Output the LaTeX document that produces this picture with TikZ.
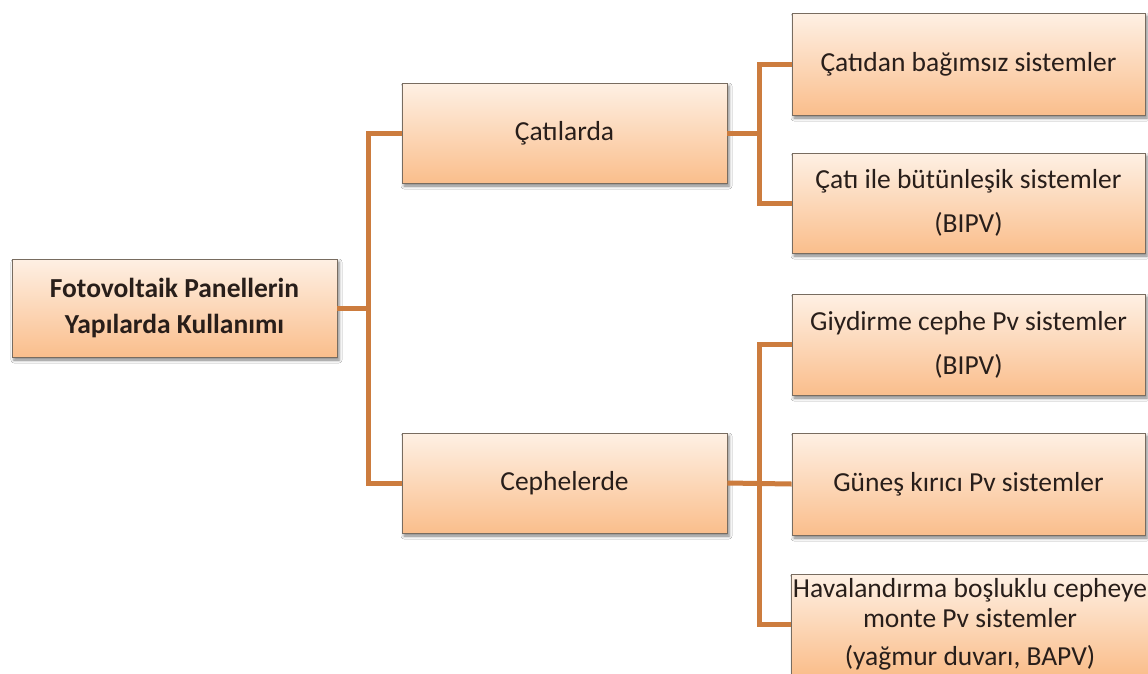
\documentclass[tikz,border=0pt]{standalone}
\usepackage{fontspec}
\setmainfont{Carlito}
\usetikzlibrary{shadows.blur,calc}
\definecolor{conn}{RGB}{204,124,62}
\definecolor{boxtop}{RGB}{254,240,228}
\definecolor{boxbot}{RGB}{250,190,140}
\definecolor{boxedge}{RGB}{120,108,96}
\definecolor{txt}{RGB}{40,30,26}
\tikzset{
  pbox/.style={draw=boxedge, line width=0.9pt, top color=boxtop, bottom color=boxbot,
    text=txt, align=center, inner sep=0pt,
    blur shadow={shadow xshift=2pt, shadow yshift=-3pt, shadow blur radius=3pt, shadow opacity=50}},
  wire/.style={draw=conn, line width=5pt}
}
\begin{document}
\begin{tikzpicture}[x=1pt,y=-1pt]
\useasboundingbox[fill=white] (0,0) rectangle (1148,673);
% nodes
\node[pbox, minimum width=325pt, minimum height=98pt, font=\fontsize{27.5}{36}\selectfont\bfseries]
  (root) at (174.5,308) {Fotovoltaik Panellerin\\Yapılarda Kullanımı};
\node[pbox, minimum width=325pt, minimum height=100pt, font=\fontsize{27.5}{44}\selectfont]
  (cat) at (564.5,133) {Çatılarda};
\node[pbox, minimum width=325pt, minimum height=100pt, font=\fontsize{27.5}{44}\selectfont]
  (cep) at (564.5,483) {Cephelerde};
\node[pbox, minimum width=353pt, minimum height=102pt, font=\fontsize{27.5}{44}\selectfont]
  (r1) at (968.5,64) {Çatıdan bağımsız sistemler};
\node[pbox, minimum width=353pt, minimum height=100pt, font=\fontsize{27.5}{44}\selectfont]
  (r2) at (968.5,203) {Çatı ile bütünleşik sistemler\\(BIPV)};
\node[pbox, minimum width=353pt, minimum height=101pt, font=\fontsize{27.5}{44}\selectfont]
  (r3) at (968.5,344.5) {Giydirme cephe Pv sistemler\\(BIPV)};
\node[pbox, minimum width=353pt, minimum height=102pt, font=\fontsize{27.5}{44}\selectfont]
  (r4) at (968.5,484) {Güneş kırıcı Pv sistemler};
\node[pbox, minimum width=358pt, minimum height=100pt, font=\fontsize{27.5}{30}\selectfont]
  (r5) at (970,624) {Havalandırma boşluklu cepheye\\monte Pv sistemler\\[8pt](yağmur duvarı, BAPV)};
% bus points
\coordinate (b1) at (368,308);
\coordinate (b2) at (759,133);
\coordinate (b3) at (759,483);
% connectors
\draw[wire] (root.east) -- (b1);
\draw[wire] (b1) |- (cat.west);
\draw[wire] (b1) |- (cep.west);
\draw[wire] (cat.east) -- (b2);
\draw[wire] (b2) |- (r1.west);
\draw[wire] (b2) |- (r2.west);
\draw[wire] (cep.east) -- (r4.west);
\draw[wire] (b3) |- (r3.west);
\draw[wire] (b3) |- (r5.west);
\end{tikzpicture}
\end{document}
